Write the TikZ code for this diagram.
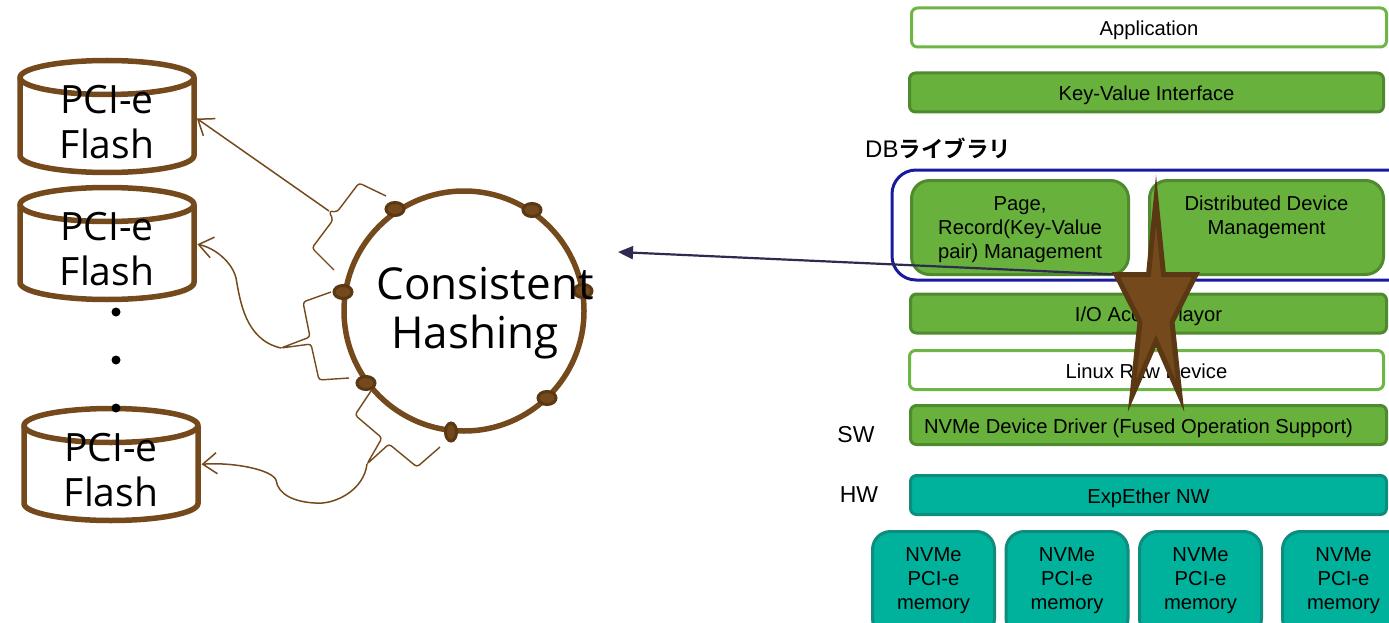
\documentclass[tikz,border=0pt]{standalone}
\usepackage{fontspec}
\setmainfont{Liberation Sans}
\newfontfamily\hashfont{Open Sans}
\newfontfamily\cjk[BoldFont={Noto Sans CJK JP Bold}]{Noto Sans CJK JP}
\usetikzlibrary{arrows.meta,shapes.geometric}
\definecolor{brownline}{HTML}{744A1C}
\definecolor{browndark}{HTML}{5A3814}
\definecolor{leaf}{HTML}{67B13C}
\definecolor{leafline}{HTML}{4F8A2E}
\definecolor{leaflight}{HTML}{6DB544}
\definecolor{teal}{HTML}{00B29C}
\definecolor{tealline}{HTML}{0E8C7D}
\definecolor{libblue}{HTML}{1A1A9C}
\definecolor{arrowink}{HTML}{2E2A50}

\begin{document}
\begin{tikzpicture}[x=1pt, y=-1pt,
    every node/.style={inner sep=0pt, align=center, text=black, font=\fontsize{20.2}{24.4}\selectfont},
    flash/.style={rectangle, outer sep=0pt, minimum width=174pt, minimum height=112pt,
       font=\hashfont\fontsize{39}{45}\selectfont},
    drum/.style={draw=brownline, line width=5.5pt, line join=round},
    ring/.style={circle, draw=brownline, line width=5.5pt, minimum size=240pt},
    hashtext/.style={font=\hashfont\fontsize{44}{49.5}\selectfont},
    vnode/.style={ellipse, draw=browndark, fill=brownline, line width=3pt, minimum width=18pt, minimum height=13pt},
    vnodetall/.style={vnode, minimum width=11pt, minimum height=18pt},
    vdot/.style={circle, fill=black, minimum size=9pt},
    bracket/.style={draw=brownline, line width=1.4pt, rounded corners=3pt},
    link/.style={draw=brownline, line width=1.5pt, shorten >=3.5pt, -{Straight Barb[length=14pt,width=21pt]}},
    pointer/.style={draw=arrowink, line width=2.2pt, -{Triangle[length=15pt,width=13pt]}},
    layerbox/.style={rectangle, rounded corners=6pt, line width=3pt, minimum height=39pt, text height=16pt, text depth=0pt},
    layergreen/.style={layerbox, draw=leafline, fill=leaf},
    layerwhite/.style={layerbox, draw=leaflight, fill=white},
    layerteal/.style={layerbox, draw=tealline, fill=teal},
    modgreen/.style={rectangle, rounded corners=18pt, line width=3pt, draw=leafline, fill=leaf, minimum height=94pt, text depth=0pt},
    memory/.style={rectangle, rounded corners=18pt, line width=3pt, draw=tealline, fill=teal,
       minimum width=122pt, minimum height=105pt, text depth=11pt},
    library/.style={rectangle, rounded corners=24pt, draw=libblue, line width=3pt, fill=white,
       minimum width=540pt, minimum height=110pt},
    starshape/.style={draw=browndark, fill=brownline, line width=5pt, miter limit=30}]
   \useasboundingbox (0,0) rectangle (1389,623);

   % storage side
   \foreach \name/\px/\py in {flashA/107/116.5, flashB/107/243.5, flashC/111/464.5} {
      \node[flash] (\name) at (\px,\py) {};
      \path[drum] ([yshift=-17pt]\name.north west) -- ([yshift=17pt]\name.south west)
         arc[start angle=180, end angle=360, x radius=87pt, y radius=17pt]
         -- ([yshift=-17pt]\name.north east);
      \path[drum] ([yshift=-17pt]\name.north) ellipse [x radius=87pt, y radius=17pt];
      \node[flash] (\name text) at (\px,\py+5.5) {PCI-e\\Flash};
   }
   \node[vdot] (dotA) at (116,312) {};
   \node[vdot] (dotB) at (116,360) {};
   \node[vdot] (dotC) at (116,408) {};

   % hash ring
   \node[ring] (ring) at (464,311) {};
   \node[vnode] (vA) at (395,209) {};
   \node[vnode] (vB) at (532,210) {};
   \node[vnode] (vC) at (343,292) {};
   \node[vnode] (vD) at (583,291) {};
   \node[vnode] (vE) at (366,383) {};
   \node[vnode] (vF) at (547,398) {};
   \node[vnodetall] (vG) at (451,432) {};
   \node[hashtext] (hash) at (485,313) {Consistent\\Hashing\hspace*{20pt}};

   % ranges
   \coordinate (tipA) at (329,211);
   \coordinate (tipB) at (281,348);
   \coordinate (tipC) at (367,464);
   \path[bracket] (386,196) -- (359,183) -- (337,212) -- (tipA) -- (333,220) -- (312,248) -- (334,270);
   \path[bracket] (331,292) -- (303,302) -- (310,337) -- (tipB) -- (311,344) -- (319,380) -- (349,378);
   \path[bracket] (371,391) -- (355,415) -- (382,438) -- (tipC) -- (389,444) -- (417,467) -- (440,447);
   \draw[link] (tipA) to (flashA.east);
   \draw[link] (tipB) .. controls (245,340) and (240,300) .. (236,278) .. controls (232,262) and (215,248) .. (flashB.east);
   \draw[link] (tipC) .. controls (364,490) and (335,505) .. (315,503) .. controls (295,502) and (278,495) .. (276,480) .. controls (272,470) and (235,462) .. (flashC.east);

   % layer stack
   \node[layerwhite, minimum width=475pt] (app) at (1149,27.5) {Application};
   \node[layergreen, minimum width=474pt] (kvif) at (1146.5,92.5) {Key-Value Interface};
   \node[anchor=west, font=\fontsize{24}{28}\selectfont] (dblib) at (865,148) {DB{\cjk\bfseries\fontsize{22.5}{28}\selectfont ライブラリ}};
   \node[library] (lib) at (1162,225) {};
   \node[modgreen, minimum width=217pt] (page) at (1020,227.5) {Page,\\Record(Key-Value\\pair) Management};
   \node[modgreen, minimum width=234pt] (ddm) at (1266.5,227.5) {Distributed Device\\Management\\~};
   \node[layergreen, minimum width=476pt] (ioacc) at (1148.5,313.5) {I/O Access layor};
   \node[layerwhite, minimum width=474pt] (rawdev) at (1146.5,370) {Linux Raw Device};
   \node[layergreen, minimum width=476pt] (driver) at (1148.5,425) {NVMe Device Driver (Fused Operation Support)\hspace*{20pt}};
   \node[layerteal, minimum width=476pt] (expether) at (1148.5,495) {ExpEther NW};
   \node[font=\fontsize{23}{28}\selectfont] (sw) at (856,435) {SW};
   \node[font=\fontsize{23}{28}\selectfont] (hw) at (859,495) {HW};
   \node[memory] (memA) at (933.5,584) {NVMe\\PCI-e\\memory};
   \node[memory] (memB) at (1067,584) {NVMe\\PCI-e\\memory};
   \node[memory] (memC) at (1200.5,584) {NVMe\\PCI-e\\memory};
   \node[memory] (memD) at (1343.5,584) {NVMe\\PCI-e\\memory};

   % request arrow and marker
   \coordinate (hub) at (1150,276);
   \coordinate (hashin) at (618,252);
   \draw[pointer] (hub) to (hashin);
   \path[starshape] (1156,200) -- (1163.5,274.5) -- (1196,274.5) -- (1172,322) -- (1180,396) -- (1156,341)
      -- (1132,396) -- (1140,322) -- (1116,274.5) -- (1148.5,274.5) -- cycle;
\end{tikzpicture}
\end{document}
